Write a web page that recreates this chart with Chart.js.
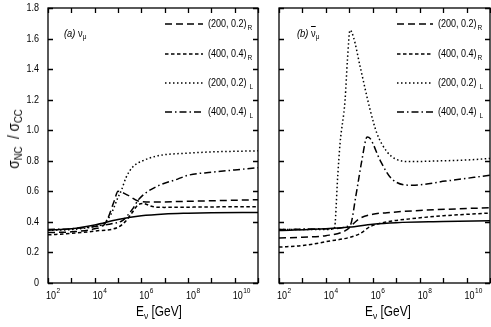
<!DOCTYPE html>
<html>
<head>
<meta charset="utf-8">
<title>NC / CC ratio</title>
<script src="https://cdn.jsdelivr.net/npm/chart.js@4.4.0/dist/chart.umd.min.js"></script>
<style>
  body { margin: 0; background: #fff; }
  .wrap { position: relative; width: 491px; height: 327px; overflow: hidden;
          font-family: "Liberation Sans", Arial, sans-serif; color: #000; }
  canvas { position: absolute; top: 0; }
  #chartA { left: 0; }
  #chartB { left: 262px; }
  .lbl { position: absolute; white-space: nowrap; line-height: 1; }
  .lbl sub { font-size: 70%; vertical-align: -0.3em; line-height: 0; }
  .ytitle { left: 14px; top: 139px; font-size: 16px; transform: translate(-50%, -50%) rotate(-90deg) scaleX(0.85); }
  .xtitle { font-size: 14px; top: 304px; transform: translateX(-50%) scaleX(0.85); }
  .tag { font-size: 11px; top: 28px; transform-origin: 0 0; transform: scaleX(0.85); }
  .bar { text-decoration: overline; }
</style>
</head>
<body>
<div class="wrap">
  <canvas id="chartA" width="262" height="327"></canvas>
  <canvas id="chartB" width="229" height="327"></canvas>
  <div class="lbl ytitle">σ<sub>NC</sub> &nbsp;/ σ<sub>CC</sub></div>
  <div class="lbl xtitle" style="left:159px">E<sub>ν</sub> [GeV]</div>
  <div class="lbl xtitle" style="left:388px">E<sub>ν</sub> [GeV]</div>
  <div class="lbl tag" style="left:64px"><i>(a)</i> ν<sub>μ</sub></div>
  <div class="lbl tag" style="left:297px"><i>(b)</i> <span class="bar">ν</span><sub>μ</sub></div>
</div>

<script>
// axis ticks
const tickE = [1e2, 1e3, 1e4, 1e5, 1e6, 1e7, 1e8, 1e9, 1e10, 1e11];
const tickExp = ['2', '', '4', '', '6', '', '8', '', '10', ''];
const yTicks = [0, 0.2, 0.4, 0.6, 0.8, 1.0, 1.2, 1.4, 1.6, 1.8];

// legend
const seriesNames = ['(200, 0.2)', '(400, 0.4)', '(200, 0.2)', '(400, 0.4)'];
const seriesSub = ['R', 'R', 'L', 'L'];

// panel (a): nu_mu
const aSmE = [1e2, 1e3, 1e4, 1e5, 1e6, 1e7, 1e8, 1e9, 1e11];
const aSmV = [0.345, 0.355, 0.38, 0.415, 0.44, 0.452, 0.457, 0.46, 0.462];
const aR200E = [1e2, 1e3, 1e4, 2.5e4, 3.6e4, 7e4, 1e5, 1.4e5, 2.6e5, 8e5, 3e6, 1e8, 1e11];
const aR200V = [0.33, 0.335, 0.355, 0.38, 0.42, 0.54, 0.60, 0.595, 0.575, 0.535, 0.53, 0.535, 0.545];
const aR400E = [1e2, 1e3, 1e4, 1e5, 2e5, 4e5, 7e5, 1.2e6, 3e6, 1e7, 1e9, 1e11];
const aR400V = [0.315, 0.325, 0.34, 0.365, 0.40, 0.46, 0.51, 0.52, 0.50, 0.495, 0.498, 0.50];
const aL200E = [1e2, 1e3, 1e4, 2.5e4, 5e4, 1e5, 1.4e5, 2.2e5, 4.3e5, 1.15e6, 4.3e6, 1e7, 1e8, 1e9, 1e11];
const aL200V = [0.345, 0.35, 0.37, 0.39, 0.45, 0.56, 0.607, 0.69, 0.76, 0.80, 0.83, 0.84, 0.85, 0.858, 0.865];
const aL400E = [1e2, 1e3, 1e4, 6e4, 1.6e5, 4e5, 8e5, 4.3e6, 3.6e7, 1e8, 1e9, 1e10, 1e11];
const aL400V = [0.35, 0.355, 0.37, 0.39, 0.41, 0.48, 0.55, 0.63, 0.68, 0.705, 0.725, 0.74, 0.755];

// panel (b): anti nu_mu
const bSmE = [1e2, 1e4, 1e5, 1e6, 1e7, 1e9, 1e11];
const bSmV = [0.344, 0.355, 0.366, 0.385, 0.395, 0.402, 0.408];
const bR200E = [1e2, 1e3, 1e4, 7e4, 2.6e5, 1e6, 4e6, 1e8, 1e11];
const bR200V = [0.294, 0.30, 0.31, 0.344, 0.42, 0.45, 0.46, 0.475, 0.493];
const bR400E = [1e2, 1e3, 1e4, 2.6e5, 8e5, 4e6, 4e7, 1e9, 1e11];
const bR400V = [0.235, 0.245, 0.27, 0.32, 0.37, 0.40, 0.42, 0.44, 0.458];
const bL200E = [1e2, 1e4, 2.3e4, 3.2e4, 4e4, 6.6e4, 8.3e4, 1.07e5, 1.5e5, 2.9e5, 7.8e5, 1.5e6, 4e6, 1e7, 4e7, 1e9, 1e10, 1e11];
const bL200V = [0.35, 0.35, 0.355, 0.70, 0.91, 1.2, 1.46, 1.656, 1.61, 1.415, 1.13, 0.98, 0.86, 0.81, 0.795, 0.80, 0.805, 0.815];
const bL400E = [1e2, 1e4, 1.07e5, 1.9e5, 3.4e5, 5.8e5, 7.8e5, 2.1e6, 6.6e6, 4.8e7, 1.26e9, 1e11];
const bL400V = [0.35, 0.355, 0.377, 0.57, 0.80, 0.956, 0.945, 0.80, 0.68, 0.64, 0.667, 0.705];

const styles = [
    { dash: [7, 4] },          // (200,0.2)_R
    { dash: [3.5, 2.5] },      // (400,0.4)_R
    { dash: [1.5, 2.5] },      // (200,0.2)_L
    { dash: [7, 3, 1.5, 3] }   // (400,0.4)_L
];

const FONT = '"Liberation Sans", Arial, sans-serif';
const SQUEEZE = 0.82;   // the original uses a narrow Helvetica

function pts(es, vs) {
    return es.map((e, i) => ({ x: e, y: vs[i] }));
}

function line(es, vs, dash) {
    return {
        data: pts(es, vs),
        borderColor: '#000',
        borderWidth: 1.5,
        borderDash: dash,
        pointRadius: 0,
        fill: false,
        cubicInterpolationMode: 'monotone'
    };
}

// narrow text, returns drawn width
function text(ctx, str, x, y, size, align) {
    ctx.font = size + 'px ' + FONT;
    const w = ctx.measureText(str).width * SQUEEZE;
    let x0 = x;
    if (align === 'right') x0 = x - w;
    if (align === 'center') x0 = x - w / 2;
    ctx.save();
    ctx.translate(x0, y);
    ctx.scale(SQUEEZE, 1);
    ctx.textAlign = 'left';
    ctx.textBaseline = 'middle';
    ctx.fillText(str, 0, 0);
    ctx.restore();
    return w;
}

// frame with inward ticks, tick labels, legend with subscripts
const framePlugin = {
    id: 'frame',
    afterDatasetsDraw(chart, args, opts) {
        const ctx = chart.ctx;
        const a = chart.chartArea;
        const x = chart.scales.x, y = chart.scales.y;
        ctx.save();
        ctx.strokeStyle = '#000';
        ctx.fillStyle = '#000';
        ctx.lineWidth = 1.3;
        ctx.setLineDash([]);
        ctx.strokeRect(a.left, a.top, a.right - a.left, a.bottom - a.top);
        ctx.beginPath();
        tickE.forEach(v => {
            const px = Math.round(x.getPixelForValue(v)) + 0.5;
            ctx.moveTo(px, a.bottom); ctx.lineTo(px, a.bottom - 5);
            ctx.moveTo(px, a.top); ctx.lineTo(px, a.top + 5);
        });
        yTicks.forEach(v => {
            const py = Math.round(y.getPixelForValue(v)) + 0.5;
            ctx.moveTo(a.left, py); ctx.lineTo(a.left + 5, py);
            ctx.moveTo(a.right, py); ctx.lineTo(a.right - 5, py);
        });
        ctx.stroke();

        // tick labels
        tickE.forEach((v, i) => {
            if (!tickExp[i]) return;
            const px = x.getPixelForValue(v);
            ctx.font = '11px ' + FONT;
            const w10 = ctx.measureText('10').width * SQUEEZE;
            text(ctx, '10', px + 3 - w10 / 2, 296, 11, 'left');
            text(ctx, tickExp[i], px + 3 + w10 / 2 + 0.5, 290.5, 8, 'left');
        });
        if (opts.yLabels) {
            yTicks.forEach(v => {
                text(ctx, v === 0 ? '0' : v.toFixed(1), a.left - 9, y.getPixelForValue(v), 11, 'right');
            });
        }

        // legend
        ctx.lineWidth = 1.5;
        seriesNames.forEach((name, i) => {
            const ry = opts.rows[i];
            ctx.setLineDash(styles[i].dash);
            ctx.beginPath();
            ctx.moveTo(opts.lineX[0], ry);
            ctx.lineTo(opts.lineX[1], ry);
            ctx.stroke();
            ctx.setLineDash([]);
            const w = text(ctx, name, opts.textX, ry, 11, 'left');
            text(ctx, seriesSub[i], opts.textX + w + (seriesSub[i] === 'L' ? 3 : 1), ry + 4, 8, 'left');
        });
        ctx.restore();
    }
};

function makePanel(id, sets, yWidth, pad, frameOpts) {
    return new Chart(document.getElementById(id), {
        type: 'line',
        data: { datasets: sets },
        options: {
            responsive: false,
            animation: false,
            layout: { padding: pad },
            plugins: {
                legend: { display: false },
                tooltip: { enabled: false },
                frame: frameOpts
            },
            scales: {
                x: {
                    type: 'logarithmic',
                    min: 1e2,
                    max: 1e11,
                    afterBuildTicks: s => { s.ticks = tickE.map(v => ({ value: v })); },
                    afterFit: s => { s.height = 44; },
                    grid: { display: false, drawTicks: false },
                    border: { display: false },
                    ticks: { display: false }
                },
                y: {
                    min: 0,
                    max: 1.8,
                    afterBuildTicks: s => { s.ticks = yTicks.map(v => ({ value: v })); },
                    afterFit: s => { s.width = yWidth; },
                    grid: { display: false, drawTicks: false },
                    border: { display: false },
                    ticks: { display: false }
                }
            }
        },
        plugins: [framePlugin]
    });
}

makePanel('chartA', [
    line(aSmE, aSmV, []),
    line(aR200E, aR200V, styles[0].dash),
    line(aR400E, aR400V, styles[1].dash),
    line(aL200E, aL200V, styles[2].dash),
    line(aL400E, aL400V, styles[3].dash)
], 48, { top: 8, right: 4, left: 0, bottom: 0 },
   { yLabels: true, rows: [24, 54, 83, 112], lineX: [165, 203], textX: 208 });

makePanel('chartB', [
    line(bSmE, bSmV, []),
    line(bR200E, bR200V, styles[0].dash),
    line(bR400E, bR400V, styles[1].dash),
    line(bL200E, bL200V, styles[2].dash),
    line(bL400E, bL400V, styles[3].dash)
], 0, { top: 8, right: 1, left: 17, bottom: 0 },
   { yLabels: false, rows: [24, 54, 83, 112], lineX: [135, 171], textX: 176 });
</script>
</body>
</html>
